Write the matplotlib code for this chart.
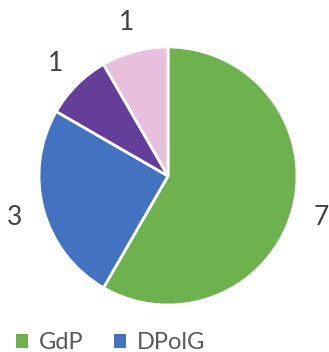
import matplotlib.pyplot as plt

# data
parties = ["GdP", "DPolG", "Other A", "Other B"]
seats = [7, 3, 1, 1]
colors = ["#6DB24F", "#4372C1", "#653E9A", "#E8C0DE"]

plt.rcParams['font.family'] = ['Lato', 'DejaVu Sans']

fig = plt.figure(figsize=(3.29, 3.52), dpi=100)
W, H = 329, 352
cx, cy, r = 168, 176, 129
ax = fig.add_axes([(cx - r) / W, (H - cy - r) / H, 2 * r / W, 2 * r / H])

wedges, texts = ax.pie(seats, labels=[str(s) for s in seats], colors=colors,
                       startangle=90, counterclock=False, labeldistance=1.23,
                       wedgeprops=dict(edgecolor="white", linewidth=2),
                       textprops=dict(fontsize=19, color="#404040"))
for t in texts:
    t.set_ha("center")
    t.set_va("center")
ax.set_xlim(-1, 1)
ax.set_ylim(-1, 1)

leg = fig.legend(wedges[:2], parties[:2], ncol=2, loc="center left",
                 bbox_to_anchor=(0.05, 0.026), frameon=False, fontsize=17,
                 handlelength=0.5, handleheight=0.5, handletextpad=0.45,
                 columnspacing=1.3, borderaxespad=0, borderpad=0)
for t in leg.get_texts():
    t.set_color("#595959")
for h in leg.legend_handles:
    h.set_edgecolor("none")

fig.savefig("out.png", dpi=100)
